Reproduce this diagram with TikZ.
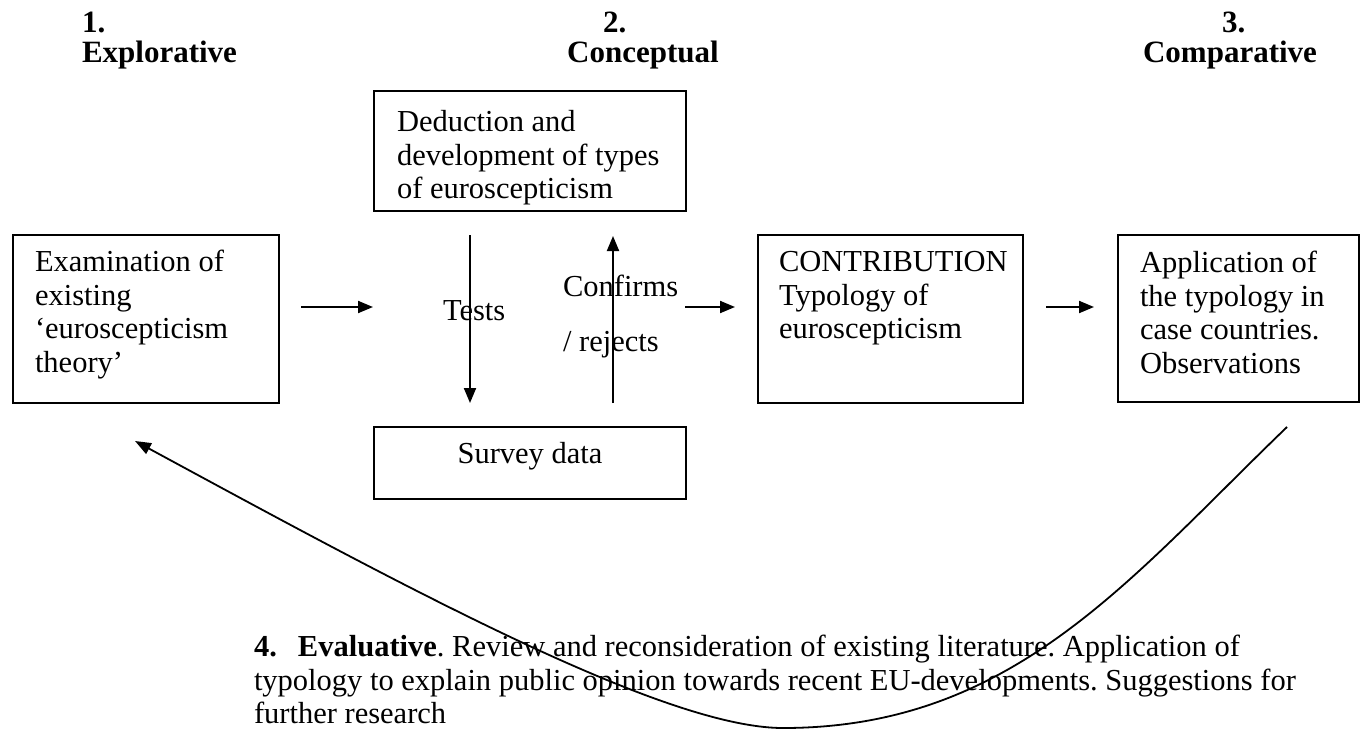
\documentclass[tikz,border=0pt]{standalone}
\usepackage{fontspec}
\setmainfont{Liberation Serif}
\usetikzlibrary{arrows.meta}
\frenchspacing
\begin{document}
\begin{tikzpicture}[x=1pt,y=-1pt,
  every node/.style={inner sep=0pt, outer sep=0pt},
  body/.style={font=\fontsize{30.5}{33.5}\selectfont},
  txt/.style={body, align=left, anchor=north west},
  word/.style={body, anchor=base west},
  head/.style={font=\fontsize{31}{33.5}\selectfont\bfseries, anchor=base west},
  frame/.style={draw, line width=2pt, anchor=north west},
  flow/.style={line width=2pt, -{Triangle[length=15pt,width=12pt]}},
  loop/.style={line width=1.8pt, -{Triangle[length=16pt,width=12pt]}}
]
\useasboundingbox (0,0) rectangle (1367,734);

% stage headings
\node[head] (h1n) at (82,32) {1.};
\node[head] (h1)  at (82,62) {Explorative};
\node[head] (h2n) at (603,32) {2.};
\node[head, anchor=base] (h2) at (643,62) {Conceptual};
\node[head] (h3n) at (1222,32) {3.};
\node[head, anchor=base] (h3) at (1230,62) {Comparative};

% boxes
\node[frame, minimum width=266pt, minimum height=168pt] (exam)    at (13,235) {};
\node[frame, minimum width=312pt, minimum height=120pt] (deduct)  at (374,91) {};
\node[frame, minimum width=312pt, minimum height=72pt]  (survey)  at (374,427) {};
\node[frame, minimum width=265pt, minimum height=168pt] (contrib) at (758,235) {};
\node[frame, minimum width=241pt, minimum height=167pt] (appl)    at (1118,235) {};

% box texts
\node[txt] (examtxt) at (35,248.5) {\strut Examination of\\existing\\‘euroscepticism\\theory’};
\node[txt] (deducttxt) at (397,108.5) {\strut Deduction and\\development of types\\of euroscepticism};
\node[body, anchor=base] (surveytxt) at (530,463) {Survey data};
\node[txt] (contribtxt) at (779,248.5) {\strut CONTRIBUTION\\Typology of\\euroscepticism};
\node[txt] (appltxt) at (1140,249.5) {\strut Application of\\the typology in\\case countries.\\Observations};

% labels on the vertical arrows
\node[word] (tests) at (443,320) {Tests};
\node[word] (conf1) at (563,296) {Confirms};
\node[word] (conf2) at (563,351) {/ rejects};

% arrow end points
\coordinate (a1s) at (301,307);  \coordinate (a1e) at (373,307);
\coordinate (tds) at (470,235);  \coordinate (tde) at (470,403);
\coordinate (cus) at (613,403);  \coordinate (cue) at (613,236);
\coordinate (a3s) at (685,307);  \coordinate (a3e) at (735,307);
\coordinate (a4s) at (1046,307); \coordinate (a4e) at (1094,307);

\draw[flow] (a1s) -- (a1e);
\draw[flow] (tds) -- (tde);
\draw[flow] (cus) -- (cue);
\draw[flow] (a3s) -- (a3e);
\draw[flow] (a4s) -- (a4e);

% evaluative stage text
\node[txt] (evaltxt) at (254,633.5) {\strut\makebox[44pt][l]{\textbf{4.}}\textbf{Evaluative}. Review and reconsideration of existing literature. Application of\\typology to explain public opinion towards recent EU-developments. Suggestions for\\further research};

% feedback loop back to the explorative stage
\coordinate (ls) at (1287,427);
\coordinate (lm) at (783,728);
\coordinate (le) at (135,441);
\draw[loop] (ls) .. controls (1129,579) and (1013,728) .. (lm)
                 .. controls (663,728) and (399,584) .. (le);
\end{tikzpicture}
\end{document}
